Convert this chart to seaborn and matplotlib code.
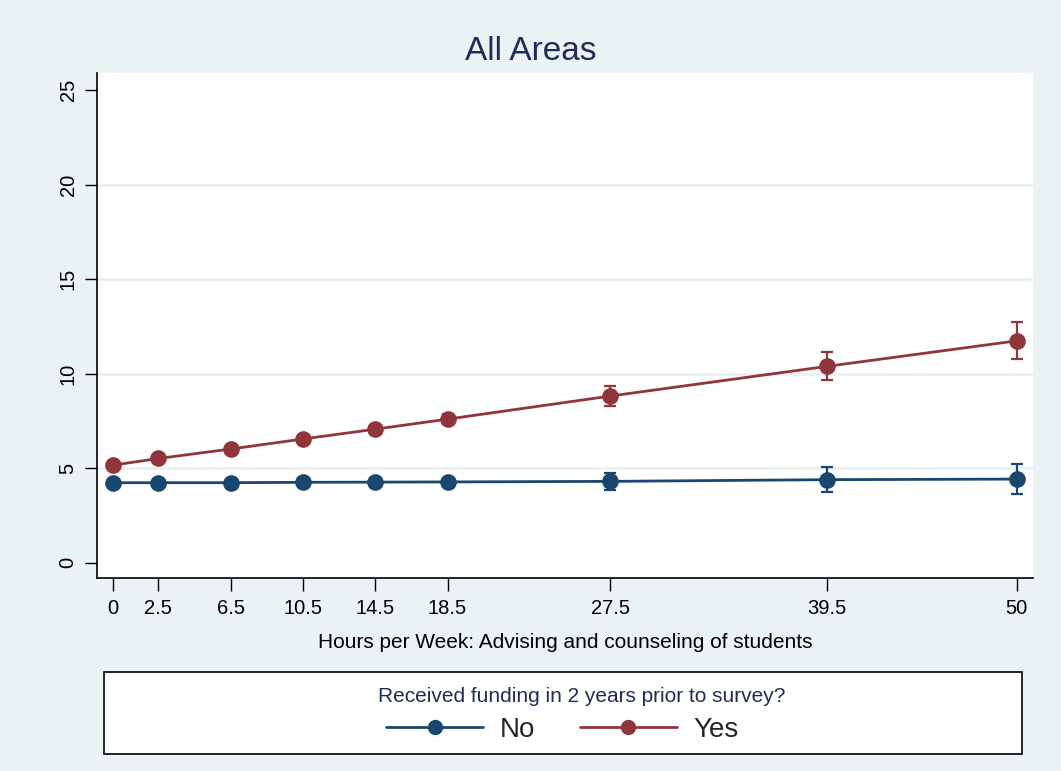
import numpy as np
import pandas as pd
import seaborn as sns
import matplotlib.pyplot as plt
from matplotlib.patches import Rectangle

# values
hours = [0, 2.5, 6.5, 10.5, 14.5, 18.5, 27.5, 39.5, 50]
no_mean = [4.24, 4.24, 4.24, 4.26, 4.27, 4.28, 4.31, 4.40, 4.43]
no_lo = [4.18, 4.19, 4.18, 4.16, 4.13, 4.08, 3.87, 3.75, 3.64]
no_hi = [4.30, 4.29, 4.30, 4.36, 4.41, 4.48, 4.75, 5.05, 5.22]
yes_mean = [5.17, 5.52, 6.02, 6.55, 7.07, 7.60, 8.82, 10.39, 11.74]
yes_lo = [5.10, 5.44, 5.95, 6.44, 6.92, 7.35, 8.30, 9.66, 10.78]
yes_hi = [5.24, 5.60, 6.09, 6.66, 7.22, 7.85, 9.33, 11.13, 12.76]
groups = ["No", "Yes"]

bg = "#eaf2f3"
navy = "#1a476f"
maroon = "#90353b"
title_col = "#1e2d59"

sns.set_theme(style="white")
plt.rcParams["font.family"] = ["Liberation Sans", "DejaVu Sans"]

df = pd.DataFrame({
    "hours": hours * 2,
    "margin": no_mean + yes_mean,
    "lo": no_lo + yes_lo,
    "hi": no_hi + yes_hi,
    "funded": ["No"] * len(hours) + ["Yes"] * len(hours),
})

fig = plt.figure(figsize=(10.61, 7.71), dpi=100, facecolor=bg)
ax = fig.add_axes([0.0914, 0.2503, 0.8822, 0.655])
ax.set_facecolor("white")

for y in [5, 10, 15, 20]:
    ax.axhline(y, color=bg, lw=2.2, zorder=0)

pal = {"No": navy, "Yes": maroon}
sns.lineplot(data=df, x="hours", y="margin", hue="funded", palette=pal,
             marker="o", markersize=12, markeredgewidth=0, linewidth=2,
             ax=ax, legend=False, zorder=3)

for g in groups:
    sub = df[df["funded"] == g]
    ax.errorbar(sub["hours"], sub["margin"],
                yerr=[sub["margin"] - sub["lo"], sub["hi"] - sub["margin"]],
                fmt="none", ecolor=pal[g], elinewidth=1.6, capsize=4.5,
                capthick=1.6, zorder=2)

ax.set_xlim(-0.9, 50.9)
ax.set_ylim(-0.8, 25.9)
ax.set_xticks(hours)
ax.set_xticklabels(["0", "2.5", "6.5", "10.5", "14.5", "18.5", "27.5", "39.5", "50"])
ax.set_yticks([0, 5, 10, 15, 20, 25])
ax.tick_params(axis="both", which="major", length=9, width=1, color="black",
               direction="out", labelsize=14.5, labelcolor="black",
               left=True, bottom=True)
for lab in ax.get_yticklabels():
    lab.set_rotation(90)
    lab.set_va("center")
for lab in ax.get_xticklabels() + ax.get_yticklabels():
    lab.set_fontfamily(["Liberation Sans", "DejaVu Sans"])
ax.tick_params(axis="x", pad=6)
ax.tick_params(axis="y", pad=5)

sns.despine(ax=ax)
for s in ["left", "bottom"]:
    ax.spines[s].set_color("black")
    ax.spines[s].set_linewidth(1.2)

ax.set_xlabel("Hours per Week: Advising and counseling of students",
              fontsize=15, color="black", labelpad=11)
ax.set_ylabel("")
fig.text(0.5, 0.933, "All Areas", fontsize=24, color=title_col,
         ha="center", va="center")

# legend box
fig.patches.append(Rectangle((0.098, 0.022), 0.865, 0.106,
                             transform=fig.transFigure, facecolor="white",
                             edgecolor="black", lw=1.2, zorder=0))
fig.text(0.5485, 0.096, "Received funding in 2 years prior to survey?",
         fontsize=15, color=title_col, ha="center", va="center")
handles = [plt.Line2D([], [], color=pal[g], lw=2, marker="o", markersize=10)
           for g in groups]
leg = fig.legend(handles, groups, loc="center", bbox_to_anchor=(0.53, 0.053),
                 ncol=2, frameon=False, fontsize=20, handlelength=3.5,
                 columnspacing=1.6, handletextpad=0.6, borderpad=0)

fig.savefig("out.png", dpi=100, facecolor=bg)
